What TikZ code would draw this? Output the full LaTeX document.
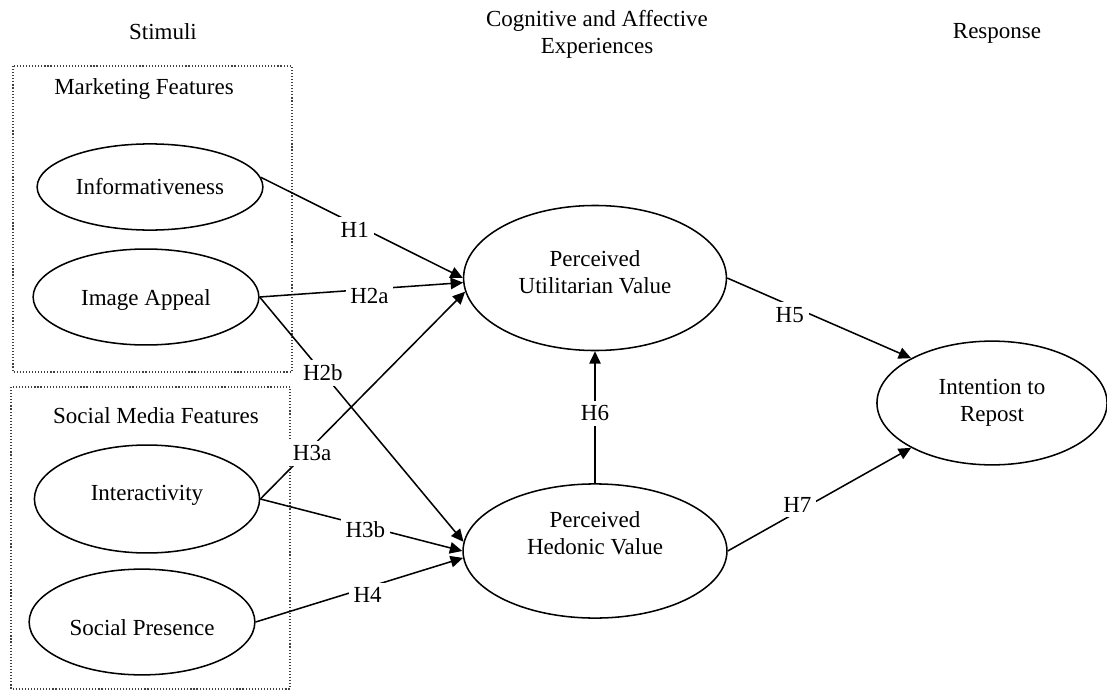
\documentclass[tikz,border=0pt]{standalone}
\usepackage{fontspec}
\setmainfont{Liberation Serif}
\usepackage{tikz}
\usetikzlibrary{shapes.geometric,arrows.meta}

\begin{document}
\begin{tikzpicture}[->,>={Triangle[length=6.5pt,width=6pt]},x=0.01834cm,y=-0.01834cm,
  line width=0.8pt,font=\fontsize{12}{14}\selectfont,
  construct/.style={ellipse,draw,inner sep=0pt},
  hyp/.style={fill=white,inner sep=2.5pt},
  group box/.style={-,draw=black!75,line width=0.6pt,densely dotted}]

  \useasboundingbox (0,0) rectangle (1107,694);

  % stage headings
  \node (stimuli) at (163,32) {Stimuli};
  \node[align=center] (cogn) at (597,34) {Cognitive and Affective\\Experiences};
  \node (resp) at (997,33) {Response};

  % dotted groups
  \draw[group box] (13,66) rectangle (292,372);
  \draw[group box] (11,387) rectangle (290,689);
  \node (mktg) at (144,89) {Marketing Features};
  \node (smf) at (156,416) {Social Media Features};

  \node[construct,minimum width=4.14cm,minimum height=1.58cm] (info) at (150,187) {Informativeness};
  \node[construct,minimum width=4.14cm,minimum height=1.76cm,text height=11pt] (img) at (146,297) {Image Appeal};
  \node[construct,minimum width=4.13cm,minimum height=1.98cm,text depth=6.5pt] (inter) at (147,499) {Interactivity};
  \node[construct,minimum width=4.14cm,minimum height=1.94cm,text height=14pt] (socp) at (142,622) {Social Presence};
  \node[construct,minimum width=4.82cm,minimum height=2.66cm,align=center,text depth=6.5pt] (puv) at (595,278) {Perceived\\Utilitarian Value};
  \node[construct,minimum width=4.84cm,minimum height=2.46cm,align=center,text depth=19pt] (phv) at (595,551) {Perceived\\Hedonic Value};
  \node[construct,minimum width=4.22cm,minimum height=2.27cm,align=center] (ir) at (992,403) {Intention to\\Repost};

\path
	(info.5) edge node[hyp,pos=0.465,yshift=-3pt] {H1} (puv.west)
	(img.east) edge node[hyp,pos=0.54,yshift=-3.5pt] {H2a} (puv.182)
	(img.east) edge node[hyp,pos=0.31] {H2b} (phv.176)
	(inter.east) edge node[hyp,pos=0.22,xshift=3.5pt] {H3a} (puv.186)
	(inter.east) edge node[hyp,pos=0.52,yshift=-2pt] {H3b} (phv.west)
	(socp.east) edge node[hyp,pos=0.54,yshift=-4pt] {H4} (phv.183)
	(puv.east) edge node[hyp,pos=0.34,yshift=-5pt] {H5} (ir.151)
	(phv.north) edge node[hyp,pos=0.59,yshift=-4pt] {H6} (puv.south)
	(phv.east) edge node[hyp,pos=0.38,yshift=3.5pt] {H7} (ir.209);
\end{tikzpicture}
\end{document}
